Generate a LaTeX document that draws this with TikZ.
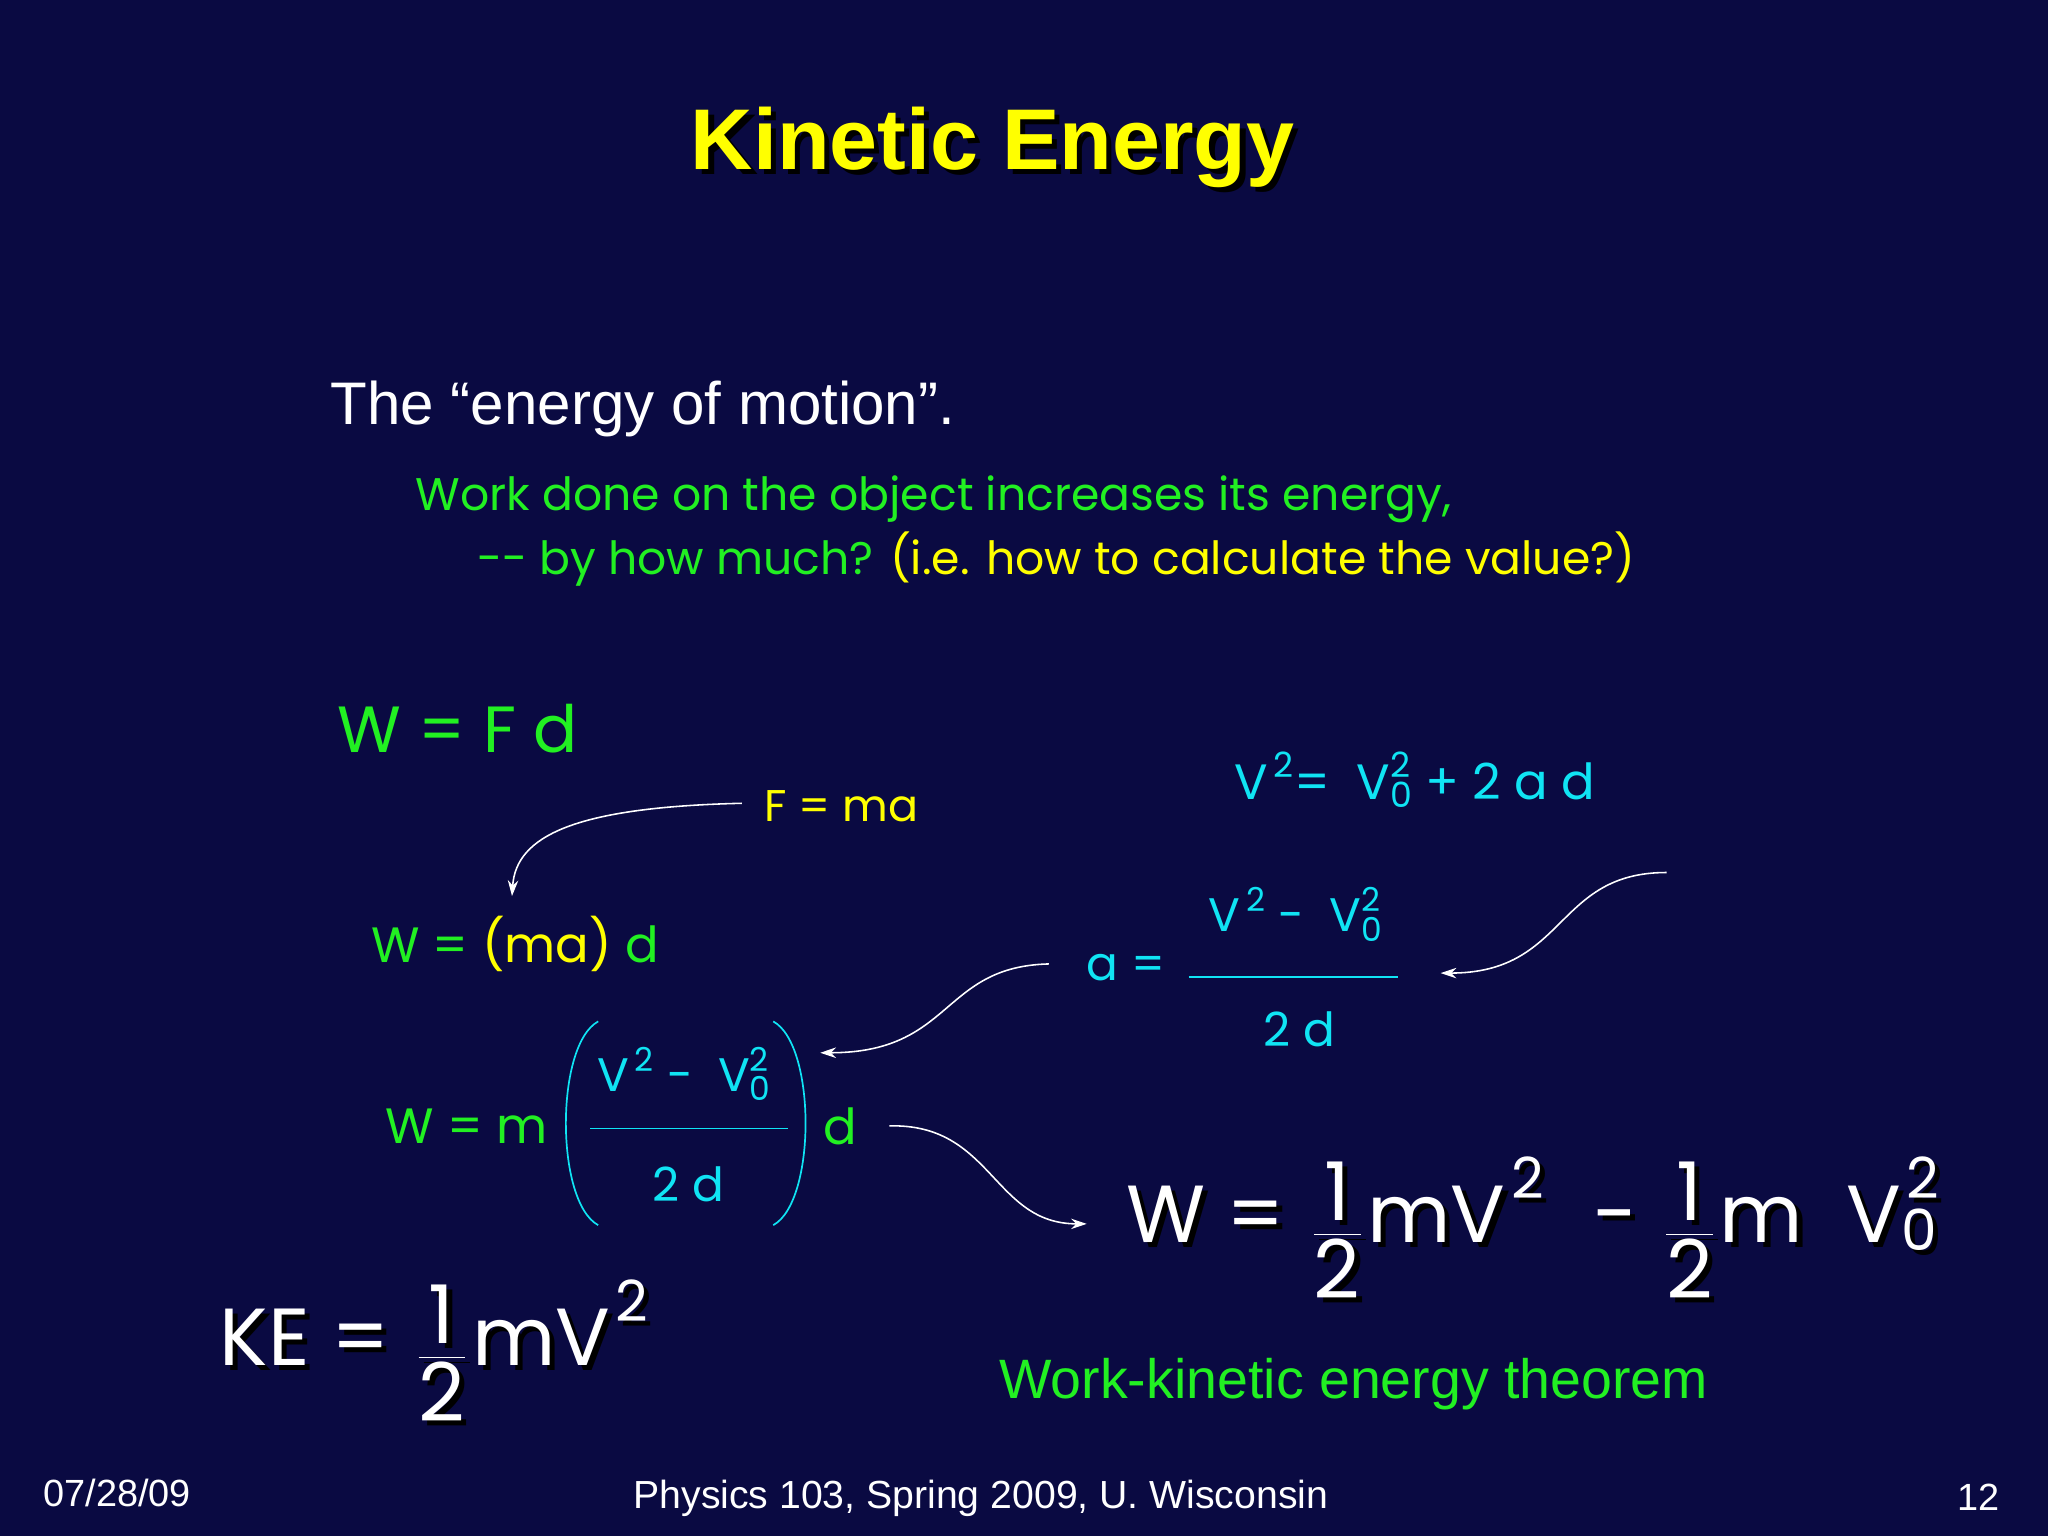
\documentclass[tikz,border=0pt]{standalone}
\usepackage{amsmath}
\usepackage{fontspec}
\setmainfont{Liberation Sans}
\newfontfamily\cf{Poppins}
\usetikzlibrary{arrows.meta}
\definecolor{bg}{HTML}{0A0A42}
\definecolor{yel}{HTML}{FFFF00}
\definecolor{grn}{HTML}{22F022}
\definecolor{cya}{HTML}{10E4F4}
\tikzset{
  t/.style={inner sep=0pt,anchor=west},
  arr/.style={white,line width=1.2pt,-{Stealth[length=12pt,width=8pt]}}
}
\newcommand{\tx}[1]{\text{#1}}
\newcommand{\bigW}{$\tx{W = }\,\dfrac{\tx{1}}{\tx{2}}\,\tx{mV}^{\,\tx{2}}\;\;\;\tx{ - }\,\dfrac{\tx{1}}{\tx{2}}\,\tx{m \ V}_{\tx{0}}^{\,\tx{2}}$}
\newcommand{\bigKE}{$\tx{KE = }\,\dfrac{\tx{1}}{\tx{2}}\,\tx{mV}^{\,\tx{2}}$}
\newcommand{\vv}{$\tx{V}^{\,\tx{2}}\tx{ - \ V}_{\tx{0}}^{\tx{2}}$}
\begin{document}
\begin{tikzpicture}[x=1pt,y=-1pt]
\fill[bg] (0,0) rectangle (1568,1176);
\useasboundingbox (0,0) rectangle (1568,1176);
% title
\node[inner sep=0pt,text=black,font=\fontsize{66}{70}\bfseries\selectfont] at (764,117) {Kinetic Energy};
\node[inner sep=0pt,text=yel,font=\fontsize{66}{70}\bfseries\selectfont] (title) at (760,113) {Kinetic Energy};
\node[t,text=white,font=\fontsize{46}{50}\selectfont] (motion) at (253,313) {The “energy of motion”.};
\node[t,text=grn,font=\cf\fontsize{35}{40}\selectfont] (l1) at (318,382) {Work done on the object increases its energy,};
\node[t,font=\cf\fontsize{35}{40}\selectfont] (l2) at (365,428) {\textcolor{grn}{-- by how much?} \textcolor{yel}{(i.e. how to calculate the value?)}};
% left equations
\node[t,text=grn,font=\cf\fontsize{50}{54}\selectfont] (wfd) at (258,558) {W = F d};
\node[t,text=yel,font=\cf\fontsize{34}{38}\selectfont] (fma) at (585,617) {F = ma};
\node[t,font=\cf\fontsize{38}{42}\selectfont] (wmad) at (284,723) {\textcolor{grn}{W =} \textcolor{yel}{(ma)} \textcolor{grn}{d}};
\coordinate (fmaL) at (568,615);
\coordinate (wmaT) at (392,686);
\draw[arr] (fmaL) .. controls (440,618) and (395,640) .. (wmaT);
% kinematics
\node[t,text=cya,font=\cf\fontsize{38}{42}\selectfont] (kin) at (945,597) {$\tx{V}^{\,\tx{2}}\tx{=\ \ V}_{\tx{0}}^{\tx{2}}\tx{\ + 2 a d}$};
\node[t,text=cya,font=\cf\fontsize{36}{40}\selectfont] (aeq) at (832,741) {a =};
\node[inner sep=0pt,text=cya,font=\cf\fontsize{36}{40}\selectfont] (anum) at (992,700) {\vv};
\draw[cya,line width=1.5pt] (910,748) -- (1070,748);
\node[inner sep=0pt,text=cya,font=\cf\fontsize{36}{40}\selectfont] (aden) at (995,788) {2 d};
\coordinate (kinR) at (1276,668);
\coordinate (aR) at (1103,745);
\draw[arr] (kinR) .. controls (1190,668) and (1200,745) .. (aR);
\coordinate (aL) at (803,738);
\coordinate (parR) at (628,806);
\draw[arr] (aL) .. controls (720,740) and (730,806) .. (parR);
% W = m (...) d
\node[t,text=grn,font=\cf\fontsize{38}{42}\selectfont] (wm) at (295,862) {W = m};
\draw[cya,line width=1.3pt] (458,782) .. controls (425,800) and (425,920) .. (458,938);
\draw[cya,line width=1.3pt] (592,782) .. controls (625,800) and (625,920) .. (592,938);
\node[inner sep=0pt,text=cya,font=\cf\fontsize{36}{40}\selectfont] (wnum) at (524,822) {\vv};
\draw[cya,line width=1.5pt] (452,864) -- (603,864);
\node[inner sep=0pt,text=cya,font=\cf\fontsize{36}{40}\selectfont] (wden) at (527,907) {2 d};
\node[t,text=grn,font=\cf\fontsize{38}{42}\selectfont] (wd) at (630,862) {d};
\coordinate (dR) at (681,862);
\coordinate (bigL) at (832,937);
\draw[arr] (dR) .. controls (760,860) and (760,937) .. (bigL);
% big equations
\node[t,text=black,font=\cf\fontsize{62}{66}\selectfont] at (866,944) {\bigW};
\node[t,text=white,font=\cf\fontsize{62}{66}\selectfont] (big) at (862,940) {\bigW};
\node[t,text=black,font=\cf\fontsize{62}{66}\selectfont] at (172,1038) {\bigKE};
\node[t,text=white,font=\cf\fontsize{62}{66}\selectfont] (ke) at (168,1034) {\bigKE};
\node[t,text=grn,font=\fontsize{42.5}{46}\selectfont] (thm) at (765,1060) {Work-kinetic energy theorem};
% footer
\node[t,text=white,font=\fontsize{29}{32}\selectfont] (date) at (33,1143) {07/28/09};
\node[inner sep=0pt,text=white,font=\fontsize{30}{33}\selectfont] (foot) at (751,1147) {Physics 103, Spring 2009, U. Wisconsin};
\node[inner sep=0pt,text=white,font=\fontsize{29}{32}\selectfont] (pg) at (1515,1146) {12};
\end{tikzpicture}
\end{document}
